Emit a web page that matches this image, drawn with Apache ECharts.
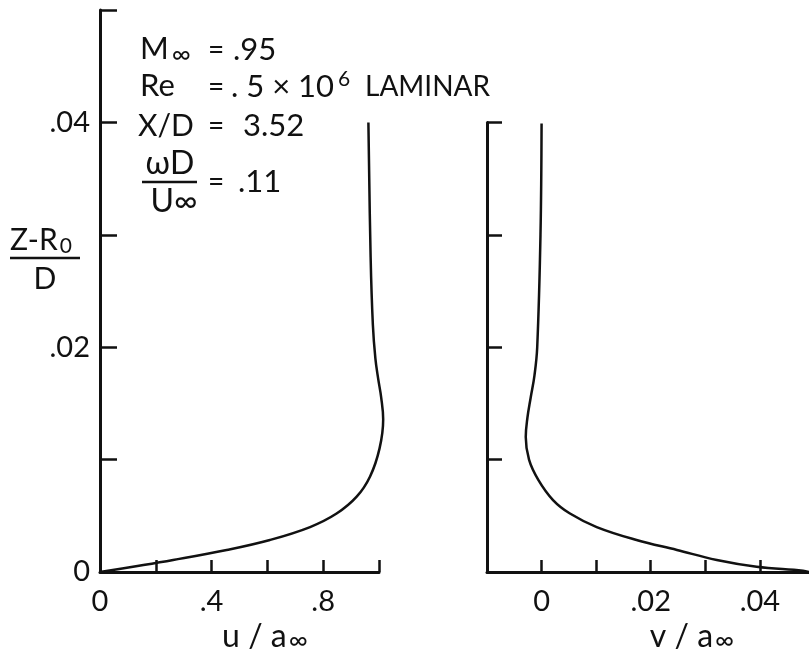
<!DOCTYPE html>
<html>
<head>
<meta charset="utf-8">
<script src="https://cdn.jsdelivr.net/npm/echarts@6/dist/echarts.min.js"></script>
<style>html,body{margin:0;padding:0;background:#fff;}#c{width:809px;height:656px;}</style>
</head>
<body>
<div id="c"></div>
<script>
// u/a∞ profile: [u, (Z-R0)/D]
const uProfile = [[0,0],[0.118,0.00047],[0.262,0.00107],[0.454,0.00196],[0.609,0.00285],[0.753,0.0040],[0.848,0.0052],[0.920,0.0067],[0.968,0.0085],[1.002,0.0110],[1.015,0.0136],[1.008,0.0155],[0.997,0.0172],[0.987,0.0190],[0.978,0.0220],[0.970,0.0280],[0.962,0.0400]];
// v/a∞ profile: [v, (Z-R0)/D]
const vProfile = [[0.049,0],[0.0479,0.00012],[0.0394,0.00047],[0.0321,0.00107],[0.0248,0.00196],[0.0174,0.00285],[0.0101,0.0040],[0.0052,0.0052],[0.0021,0.0064],[-0.0006,0.0082],[-0.0023,0.0100],[-0.0029,0.0120],[-0.0026,0.0137],[-0.0020,0.0155],[-0.0013,0.0175],[-0.0008,0.0200],[-0.0002,0.0300],[0.0000,0.0399]];

const leftXTicks = [0.2,0.4,0.6,0.8,1.0];
const leftXLabelValues = [0,0.4,0.8];
const leftXLabels = ['0','.4','.8'];
const leftYTicks = [0.01,0.02,0.03,0.04,0.05];
const leftYLabelValues = [0,0.02,0.04];
const leftYLabels = ['0','.02','.04'];
const rightXTicks = [0,0.01,0.02,0.03,0.04];
const rightXLabelValues = [0,0.02,0.04];
const rightXLabels = ['0','.02','.04'];
const rightYTicks = [0.01,0.02,0.03,0.04];

const FONT = 'Lato, "DejaVu Sans", sans-serif';
const INK = '#111';

function fmt(vals, labels){
  return function(v){
    const i = vals.findIndex(x => Math.abs(x - v) < 1e-9);
    return i >= 0 ? labels[i] : '';
  };
}
const axisLineStyle = {show:true, onZero:false, lineStyle:{color:INK, width:3}};

const chart = echarts.init(document.getElementById('c'), null, {renderer:'canvas'});

function txt(text, x, y, size, align, rich){
  const st = {text:text, fontSize:size, fontFamily:FONT, fill:INK, align:align||'left', verticalAlign:'middle'};
  if (rich) st.rich = rich;
  return {type:'text', x:x, y:y, z:10, style:st};
}
function bar(x1, x2, y){
  return {type:'line', z:10, shape:{x1:x1,y1:y,x2:x2,y2:y}, style:{stroke:INK, lineWidth:2.5}};
}
const subInf = {s:{fontSize:26, fontFamily:FONT, fill:INK, padding:[12,0,0,3]}};
const subZero = {s:{fontSize:21, fontFamily:FONT, fill:INK, padding:[12,0,0,2]}};
const supSix = {p:{fontSize:21, fontFamily:FONT, fill:INK, padding:[0,0,16,4]}};
const titleInf = {s:{fontSize:26, fontFamily:FONT, fill:INK, padding:[8,0,0,2]}};

// the u-profile bulges slightly past u = 1.0 (the end of the drawn axis),
// so it is plotted on an overlaid grid with the same scale but a wider range
const uPlotMax = 1.04;

chart.setOption({
  backgroundColor:'#fff',
  animation:false,
  grid:[
    {left:100, width:279, top:10, bottom:84},
    {left:487, right:0, top:122.4, bottom:84},
    {left:100, width:279 * uPlotMax, top:10, bottom:84}
  ],
  xAxis:[
    {type:'value', gridIndex:0, min:0, max:1.0, axisLine:axisLineStyle, splitLine:{show:false},
     axisTick:{show:true, inside:true, length:12, customValues:leftXTicks, lineStyle:{color:INK, width:2.5}},
     axisLabel:{show:true, customValues:leftXLabelValues, formatter:fmt(leftXLabelValues,leftXLabels), margin:15, fontSize:29, fontFamily:FONT, color:INK}},
    {type:'value', gridIndex:1, min:-0.01, max:0.049, axisLine:axisLineStyle, splitLine:{show:false},
     axisTick:{show:true, inside:true, length:12, customValues:rightXTicks, lineStyle:{color:INK, width:2.5}},
     axisLabel:{show:true, customValues:rightXLabelValues, formatter:fmt(rightXLabelValues,rightXLabels), margin:15, fontSize:29, fontFamily:FONT, color:INK}},
    {type:'value', gridIndex:2, min:0, max:uPlotMax, show:false}
  ],
  yAxis:[
    {type:'value', gridIndex:0, min:0, max:0.05, axisLine:axisLineStyle, splitLine:{show:false},
     axisTick:{show:true, inside:true, length:17, customValues:leftYTicks, lineStyle:{color:INK, width:2.5}},
     axisLabel:{show:true, customValues:leftYLabelValues, formatter:fmt(leftYLabelValues,leftYLabels), margin:10, fontSize:29, fontFamily:FONT, color:INK}},
    {type:'value', gridIndex:1, min:0, max:0.04, axisLine:axisLineStyle, splitLine:{show:false},
     axisTick:{show:true, inside:true, length:15, customValues:rightYTicks, lineStyle:{color:INK, width:2.5}},
     axisLabel:{show:false}},
    {type:'value', gridIndex:2, min:0, max:0.05, show:false}
  ],
  series:[
    {type:'line', xAxisIndex:2, yAxisIndex:2, data:uProfile, smooth:0.4, clip:false, showSymbol:false, lineStyle:{color:INK, width:2.5}},
    {type:'line', xAxisIndex:1, yAxisIndex:1, data:vProfile, smooth:0.4, clip:false, showSymbol:false, lineStyle:{color:INK, width:2.5}}
  ],
  graphic:[
    txt('M{s|∞}', 140, 49, 31, 'left', subInf),
    txt('=', 208, 50, 28),
    txt('.95', 233, 50, 31),
    txt('Re', 140, 86, 31),
    txt('=', 208, 87, 28),
    txt('. 5 × 10{p|6}', 231, 87, 31, 'left', supSix),
    txt('LAMINAR', 365, 87, 28),
    txt('X/D', 138, 126, 30),
    txt('=', 208, 126, 28),
    txt('3.52', 243, 126, 31),
    txt('ωD', 170, 164, 32, 'center'),
    bar(142, 197, 182),
    txt('U∞', 174, 202, 32, 'center'),
    txt('=', 208, 182, 28),
    txt('.11', 238, 182, 31),
    txt('Z-R{s|0}', 10, 240, 30, 'left', subZero),
    bar(10, 80, 258),
    txt('D', 45, 279, 30, 'center'),
    txt('u / a{s|∞}', 265, 637, 32, 'center', titleInf),
    txt('v / a{s|∞}', 692, 637, 32, 'center', titleInf)
  ]
});
</script>
</body>
</html>
